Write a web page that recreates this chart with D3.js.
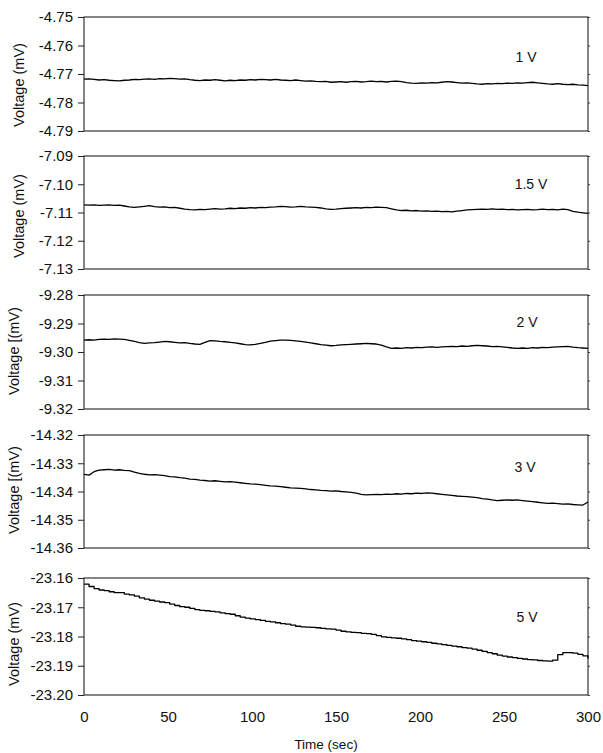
<!DOCTYPE html>
<html>
<head>
<meta charset="utf-8">
<script src="https://cdn.jsdelivr.net/npm/d3@7"></script>
<style>
  html, body { margin: 0; padding: 0; background: #fff; }
  svg { display: block; font-family: "Liberation Sans", Arial, sans-serif; }
</style>
</head>
<body>
<svg id="chart" width="603" height="753"></svg>
<script>
// Sampling times (s)
const timeSec = [0,3,6,9,12,15,18,21,24,27,30,33,36,39,42,45,48,51,54,57,60,63,66,69,72,75,78,81,84,87,90,93,96,99,
  102,105,108,111,114,117,120,123,126,129,132,135,138,141,144,147,150,153,156,159,162,165,168,171,174,177,180,183,186,189,192,195,198,
  201,204,207,210,213,216,219,222,225,228,231,234,237,240,243,246,249,252,255,258,261,264,267,270,273,276,279,282,285,288,291,294,297,300];

// Measured voltage (mV) for each applied bias
const v1 = [-4.7718,-4.7717,-4.7719,-4.7721,-4.7720,-4.7722,-4.7723,-4.7724,-4.7722,-4.7721,-4.7719,-4.7720,-4.7718,-4.7717,-4.7719,-4.7716,-4.7717,-4.7715,-4.7716,-4.7718,
  -4.7717,-4.7720,-4.7722,-4.7723,-4.7721,-4.7722,-4.7720,-4.7722,-4.7724,-4.7722,-4.7723,-4.7721,-4.7722,-4.7720,-4.7721,-4.7719,-4.7720,-4.7721,-4.7719,-4.7721,
  -4.7722,-4.7723,-4.7721,-4.7723,-4.7725,-4.7724,-4.7726,-4.7727,-4.7726,-4.7729,-4.7728,-4.7727,-4.7729,-4.7727,-4.7726,-4.7728,-4.7727,-4.7725,-4.7727,-4.7726,
  -4.7728,-4.7726,-4.7725,-4.7727,-4.7730,-4.7732,-4.7733,-4.7731,-4.7732,-4.7730,-4.7731,-4.7729,-4.7727,-4.7728,-4.7730,-4.7732,-4.7731,-4.7733,-4.7735,-4.7736,
  -4.7734,-4.7735,-4.7733,-4.7734,-4.7732,-4.7733,-4.7731,-4.7732,-4.7730,-4.7729,-4.7731,-4.7733,-4.7735,-4.7736,-4.7734,-4.7736,-4.7737,-4.7736,-4.7738,-4.7739,-4.7741];

const v15 = [-7.1073,-7.1074,-7.1073,-7.1075,-7.1074,-7.1073,-7.1075,-7.1074,-7.1077,-7.1080,-7.1082,-7.1080,-7.1078,-7.1076,-7.1079,-7.1081,-7.1080,-7.1083,-7.1082,-7.1085,
  -7.1088,-7.1090,-7.1091,-7.1089,-7.1090,-7.1088,-7.1086,-7.1088,-7.1087,-7.1085,-7.1086,-7.1084,-7.1085,-7.1083,-7.1084,-7.1082,-7.1083,-7.1081,-7.1080,-7.1078,
  -7.1079,-7.1081,-7.1080,-7.1078,-7.1080,-7.1081,-7.1082,-7.1084,-7.1087,-7.1089,-7.1088,-7.1086,-7.1085,-7.1084,-7.1083,-7.1084,-7.1082,-7.1083,-7.1081,-7.1082,
  -7.1083,-7.1087,-7.1091,-7.1093,-7.1092,-7.1094,-7.1093,-7.1095,-7.1094,-7.1096,-7.1095,-7.1097,-7.1096,-7.1098,-7.1095,-7.1093,-7.1091,-7.1090,-7.1089,-7.1088,
  -7.1089,-7.1087,-7.1089,-7.1088,-7.1090,-7.1089,-7.1091,-7.1090,-7.1089,-7.1091,-7.1090,-7.1088,-7.1090,-7.1089,-7.1091,-7.1088,-7.1090,-7.1096,-7.1099,-7.1101,-7.1103];

const v2 = [-9.2958,-9.2957,-9.2958,-9.2956,-9.2955,-9.2956,-9.2954,-9.2955,-9.2956,-9.2959,-9.2963,-9.2967,-9.2970,-9.2968,-9.2967,-9.2965,-9.2963,-9.2964,-9.2966,-9.2968,
  -9.2967,-9.2970,-9.2972,-9.2973,-9.2966,-9.2960,-9.2961,-9.2963,-9.2964,-9.2966,-9.2968,-9.2971,-9.2974,-9.2975,-9.2973,-9.2970,-9.2966,-9.2962,-9.2960,-9.2958,
  -9.2958,-9.2959,-9.2961,-9.2963,-9.2965,-9.2968,-9.2971,-9.2974,-9.2976,-9.2978,-9.2977,-9.2975,-9.2974,-9.2973,-9.2972,-9.2971,-9.2970,-9.2971,-9.2972,-9.2976,
  -9.2982,-9.2987,-9.2986,-9.2987,-9.2985,-9.2986,-9.2984,-9.2985,-9.2983,-9.2982,-9.2984,-9.2982,-9.2981,-9.2980,-9.2981,-9.2979,-9.2980,-9.2978,-9.2977,-9.2978,
  -9.2979,-9.2981,-9.2980,-9.2982,-9.2984,-9.2986,-9.2987,-9.2986,-9.2987,-9.2985,-9.2986,-9.2984,-9.2985,-9.2983,-9.2982,-9.2981,-9.2980,-9.2983,-9.2985,-9.2986,-9.2987];

const v3 = [-14.3339,-14.3342,-14.3330,-14.3324,-14.3323,-14.3322,-14.3324,-14.3323,-14.3325,-14.3326,-14.3331,-14.3336,-14.3339,-14.3341,-14.3340,-14.3342,-14.3344,-14.3347,-14.3348,-14.3351,
  -14.3353,-14.3356,-14.3357,-14.3360,-14.3361,-14.3363,-14.3362,-14.3364,-14.3366,-14.3365,-14.3367,-14.3369,-14.3371,-14.3373,-14.3374,-14.3376,-14.3378,-14.3380,-14.3381,-14.3383,
  -14.3385,-14.3387,-14.3388,-14.3389,-14.3391,-14.3393,-14.3394,-14.3396,-14.3397,-14.3399,-14.3398,-14.3400,-14.3401,-14.3403,-14.3406,-14.3410,-14.3412,-14.3411,-14.3410,-14.3411,
  -14.3409,-14.3410,-14.3408,-14.3409,-14.3407,-14.3408,-14.3406,-14.3407,-14.3405,-14.3406,-14.3408,-14.3410,-14.3412,-14.3414,-14.3416,-14.3417,-14.3418,-14.3420,-14.3422,-14.3425,
  -14.3427,-14.3430,-14.3432,-14.3431,-14.3430,-14.3431,-14.3430,-14.3432,-14.3434,-14.3436,-14.3438,-14.3440,-14.3442,-14.3441,-14.3443,-14.3445,-14.3444,-14.3446,-14.3447,-14.3448,-14.3437];

const v5 = [-23.1621,-23.1629,-23.1636,-23.1641,-23.1643,-23.1647,-23.1650,-23.1650,-23.1655,-23.1658,-23.1662,-23.1668,-23.1672,-23.1676,-23.1679,-23.1682,-23.1684,-23.1689,-23.1694,-23.1698,
  -23.1700,-23.1704,-23.1708,-23.1711,-23.1712,-23.1714,-23.1716,-23.1719,-23.1722,-23.1724,-23.1729,-23.1734,-23.1737,-23.1740,-23.1742,-23.1745,-23.1748,-23.1750,-23.1753,-23.1756,
  -23.1758,-23.1761,-23.1765,-23.1767,-23.1768,-23.1769,-23.1770,-23.1772,-23.1774,-23.1775,-23.1778,-23.1782,-23.1784,-23.1786,-23.1787,-23.1789,-23.1790,-23.1793,-23.1797,-23.1801,
  -23.1803,-23.1805,-23.1806,-23.1808,-23.1811,-23.1814,-23.1816,-23.1818,-23.1820,-23.1823,-23.1825,-23.1828,-23.1830,-23.1833,-23.1835,-23.1838,-23.1840,-23.1843,-23.1847,-23.1851,
  -23.1855,-23.1859,-23.1864,-23.1867,-23.1870,-23.1872,-23.1875,-23.1877,-23.1879,-23.1880,-23.1882,-23.1883,-23.1884,-23.1881,-23.1862,-23.1855,-23.1855,-23.1857,-23.1861,-23.1866,-23.1875];

// Panel labels, y-axis ranges, ticks and axis titles
const biasLabels = ["1 V", "1.5 V", "2 V", "3 V", "5 V"];
const seriesList = [v1, v15, v2, v3, v5];
const yDomains = [[-4.79, -4.75], [-7.13, -7.09], [-9.32, -9.28], [-14.36, -14.32], [-23.20, -23.16]];
const yTicks = [
  [-4.75, -4.76, -4.77, -4.78, -4.79],
  [-7.09, -7.10, -7.11, -7.12, -7.13],
  [-9.28, -9.29, -9.30, -9.31, -9.32],
  [-14.32, -14.33, -14.34, -14.35, -14.36],
  [-23.16, -23.17, -23.18, -23.19, -23.20]
];
const yTitles = ["Voltage (mV)", "Voltage (mV)", "Voltage [(mV)", "Voltage [(mV)", "Voltage (mV)"];
const xTicks = [0, 50, 100, 150, 200, 250, 300];
const xTitle = "Time (sec)";

// Panel geometry
const plotLeft = 84, plotRight = 588;
const panelBox = [
  { top: 17, bottom: 131, titleY: 85, titleX: 19, labelX: 526, labelY: 57 },
  { top: 156, bottom: 269, titleY: 216, titleX: 19, labelX: 531, labelY: 184 },
  { top: 295, bottom: 409, titleY: 351, titleX: 14, labelX: 527, labelY: 322 },
  { top: 435, bottom: 548, titleY: 490, titleX: 14, labelX: 525, labelY: 467 },
  { top: 578, bottom: 695, titleY: 644, titleX: 14, labelX: 527, labelY: 617 }
];

const svg = d3.select("#chart");
const x = d3.scaleLinear().domain([0, 300]).range([plotLeft, plotRight]);

seriesList.forEach((vals, i) => {
  const box = panelBox[i];
  const y = d3.scaleLinear().domain(yDomains[i]).range([box.bottom, box.top]);
  const g = svg.append("g");

  // left axis with tick labels
  const yAxis = d3.axisLeft(y).tickValues(yTicks[i]).tickSize(6).tickPadding(5)
    .tickFormat(d3.format(".2f"));
  const ya = g.append("g").attr("transform", `translate(${plotLeft},0)`).call(yAxis);
  ya.select(".domain").remove();
  ya.selectAll("line").attr("stroke", "#222");
  ya.selectAll("text")
    .attr("font-size", 15).attr("fill", "#111")
    .text(d => d3.format(".2f")(d).replace("−", "-"));

  // small marks on the right edge
  g.append("g").attr("transform", `translate(${plotRight},0)`)
    .call(d3.axisRight(y).tickValues(yTicks[i]).tickSize(2).tickFormat(""))
    .call(a => a.select(".domain").remove())
    .selectAll("line").attr("stroke", "#444");

  // frame
  g.append("rect")
    .attr("x", plotLeft).attr("y", box.top)
    .attr("width", plotRight - plotLeft).attr("height", box.bottom - box.top)
    .attr("fill", "none").attr("stroke", "#222").attr("stroke-width", 1.1);

  // trace
  const line = d3.line()
    .x((d, k) => x(timeSec[k]))
    .y(d => y(d))
    .curve(i === 4 ? d3.curveStepAfter : d3.curveLinear);
  g.append("path")
    .datum(vals)
    .attr("d", line)
    .attr("fill", "none").attr("stroke", "#000").attr("stroke-width", 1.3)
    .attr("stroke-linejoin", "round");

  // bias label
  g.append("text")
    .attr("x", box.labelX).attr("y", box.labelY).attr("dy", "0.35em")
    .attr("text-anchor", "middle").attr("font-size", 14).attr("fill", "#111")
    .text(biasLabels[i]);

  // y title
  g.append("text")
    .attr("transform", `translate(${box.titleX},${box.titleY}) rotate(-90)`)
    .attr("text-anchor", "middle").attr("dy", "0.35em")
    .attr("font-size", 14.5).attr("fill", "#111")
    .text(yTitles[i]);
});

// bottom time axis
const last = panelBox[4];
const xa = svg.append("g").attr("transform", `translate(0,${last.bottom})`)
  .call(d3.axisBottom(x).tickValues(xTicks).tickSize(0).tickPadding(16));
xa.select(".domain").remove();
xa.selectAll("text").attr("font-size", 15).attr("fill", "#111");

svg.append("text")
  .attr("x", 326).attr("y", 744).attr("dy", "0.35em")
  .attr("text-anchor", "middle").attr("font-size", 13.5).attr("fill", "#111")
  .text(xTitle);
</script>
</body>
</html>
